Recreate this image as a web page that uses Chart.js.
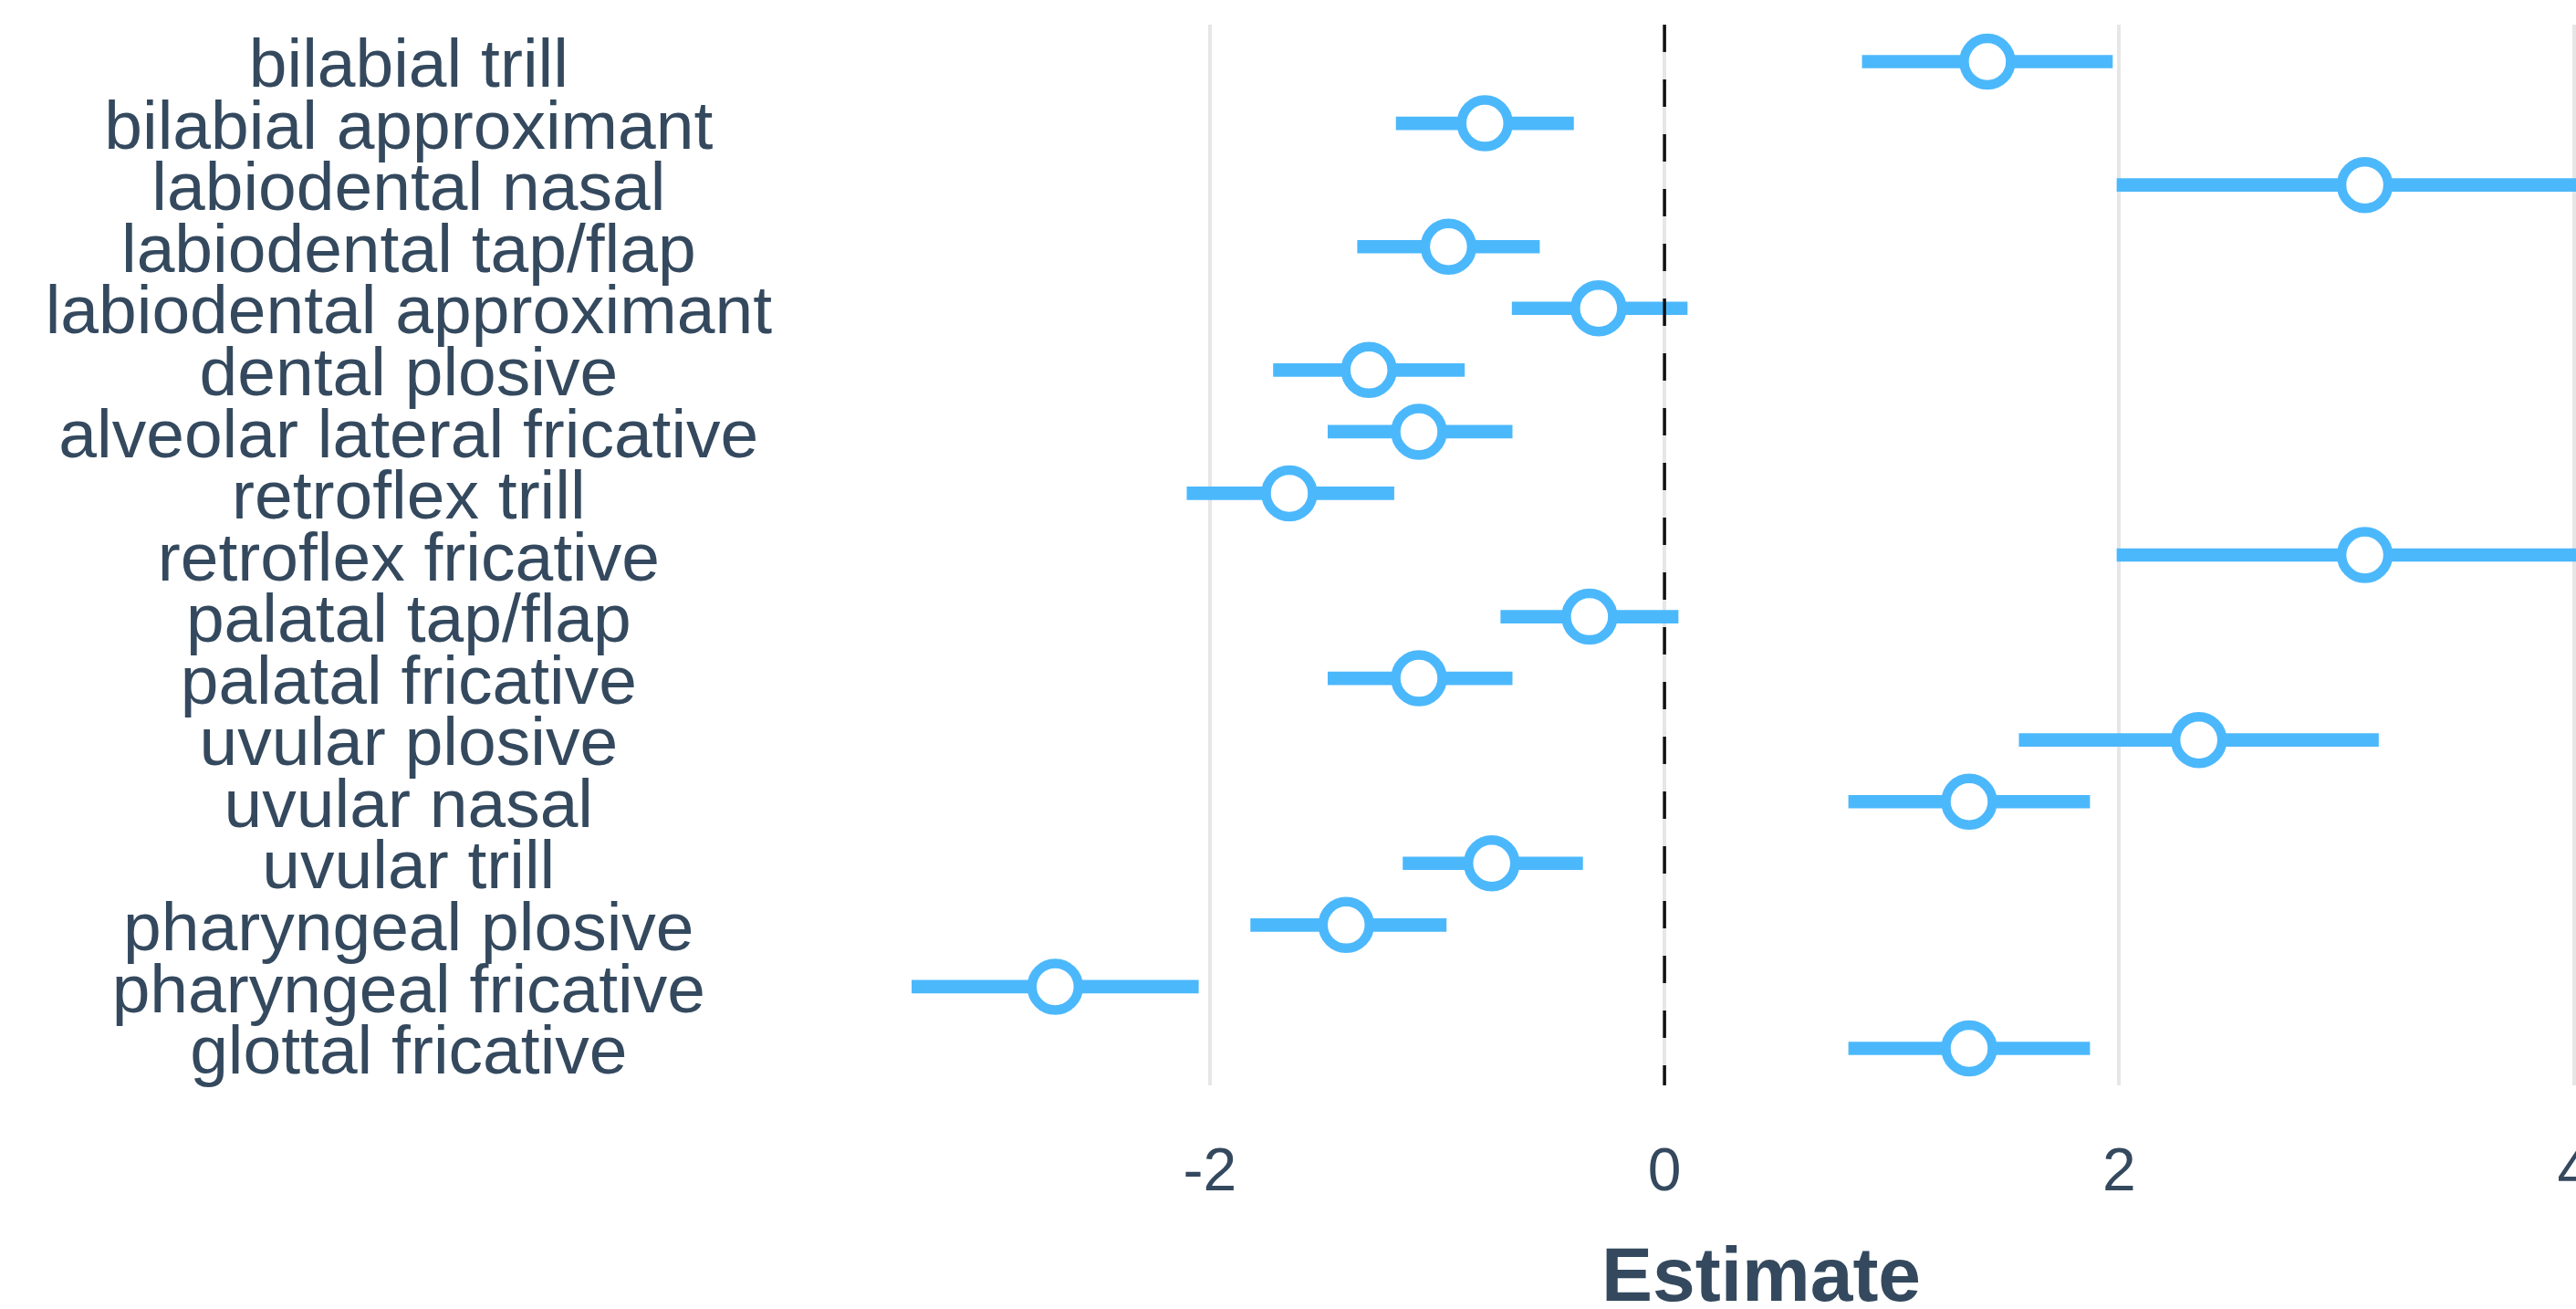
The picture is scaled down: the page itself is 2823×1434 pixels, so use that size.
<!DOCTYPE html>
<html>
<head>
<meta charset="utf-8">
<script src="https://cdn.jsdelivr.net/npm/chart.js@4.4.0/dist/chart.umd.min.js"></script>
<style>
    html, body { margin: 0; padding: 0; background: #fff; overflow: hidden; }
    #wrap { width: 2908px; height: 1460px; }
</style>
</head>
<body>
<div id="wrap"><canvas id="chart" width="2908" height="1460"></canvas></div>
<script>
// Rows, top to bottom
const categories = [
    'bilabial trill', 'bilabial approximant', 'labiodental nasal', 'labiodental tap/flap',
    'labiodental approximant', 'dental plosive', 'alveolar lateral fricative', 'retroflex trill',
    'retroflex fricative', 'palatal tap/flap', 'palatal fricative', 'uvular plosive',
    'uvular nasal', 'uvular trill', 'pharyngeal plosive', 'pharyngeal fricative', 'glottal fricative'
];
const estimate = [1.42, -0.79, 3.08, -0.95, -0.29, -1.30, -1.08, -1.65, 3.08, -0.33, -1.08, 2.35, 1.34, -0.76, -1.40, -2.68, 1.34];
const lower    = [0.87, -1.18, 1.99, -1.35, -0.67, -1.72, -1.48, -2.10, 1.99, -0.72, -1.48, 1.56, 0.81, -1.15, -1.82, -3.31, 0.81];
const upper    = [1.97, -0.40, 4.17, -0.55, 0.10, -0.88, -0.67, -1.19, 4.17, 0.06, -0.67, 3.14, 1.87, -0.36, -0.96, -2.05, 1.87];
const xTicks = [-2, 0, 2, 4];
const refLine = 0;

const blue = '#4cb8fc';
const textColor = '#34495e';
const fontFamily = '"Liberation Sans", Arial, Helvetica, sans-serif';

const yMin = -0.6, yMax = categories.length - 0.4;

new Chart(document.getElementById('chart'), {
    type: 'bar',
    data: {
        datasets: [
            {
                type: 'line',
                data: [{ x: refLine, y: yMin }, { x: refLine, y: yMax }],
                borderColor: '#111',
                borderWidth: 3.5,
                borderDash: [30, 30],
                pointRadius: 0,
                order: 0
            },
            {
                type: 'scatter',
                data: estimate.map((v, i) => ({ x: v, y: i })),
                pointRadius: 25.5,
                borderWidth: 10.5,
                borderColor: blue,
                backgroundColor: '#fff',
                order: 1
            },
            {
                type: 'bar',
                data: lower.map((v, i) => ({ x: [v, upper[i]], y: i })),
                backgroundColor: blue,
                barThickness: 14,
                order: 2
            }
        ]
    },
    options: {
        indexAxis: 'y',
        responsive: false,
        animation: false,
        events: [],
        layout: { autoPadding: false, padding: { top: 27, left: 0, right: 0, bottom: 0 } },
        plugins: {
            legend: { display: false },
            tooltip: { enabled: false }
        },
        scales: {
            x: {
                type: 'linear',
                position: 'bottom',
                min: -3.5,
                max: 4.35,
                offset: false,
                afterBuildTicks: s => { s.ticks = xTicks.map(v => ({ value: v })); },
                afterFit: s => { s.height = 271; s.paddingLeft = 0; s.paddingRight = 0; },
                grid: { color: '#e6e6e6', lineWidth: 4, drawTicks: false },
                border: { display: false },
                ticks: {
                    padding: 57,
                    color: textColor,
                    font: { family: fontFamily, size: 66 },
                    maxRotation: 0
                },
                title: {
                    display: true,
                    text: 'Estimate',
                    color: textColor,
                    font: { family: fontFamily, size: 84, weight: 'bold' },
                    padding: { top: 0, bottom: 8 }
                }
            },
            y: {
                type: 'linear',
                position: 'left',
                reverse: true,
                offset: false,
                min: yMin,
                max: yMax,
                afterBuildTicks: s => { s.ticks = categories.map((c, i) => ({ value: i })); },
                afterFit: s => { s.width = 952; s.paddingTop = 0; s.paddingBottom = 0; },
                grid: { display: false, drawTicks: false, offset: false },
                border: { display: false },
                ticks: {
                    autoSkip: false,
                    crossAlign: 'center',
                    padding: 106,
                    labelOffset: 7,
                    color: textColor,
                    font: { family: fontFamily, size: 75, lineHeight: 1 },
                    callback: v => categories[v]
                }
            }
        }
    }
});
</script>
</body>
</html>
